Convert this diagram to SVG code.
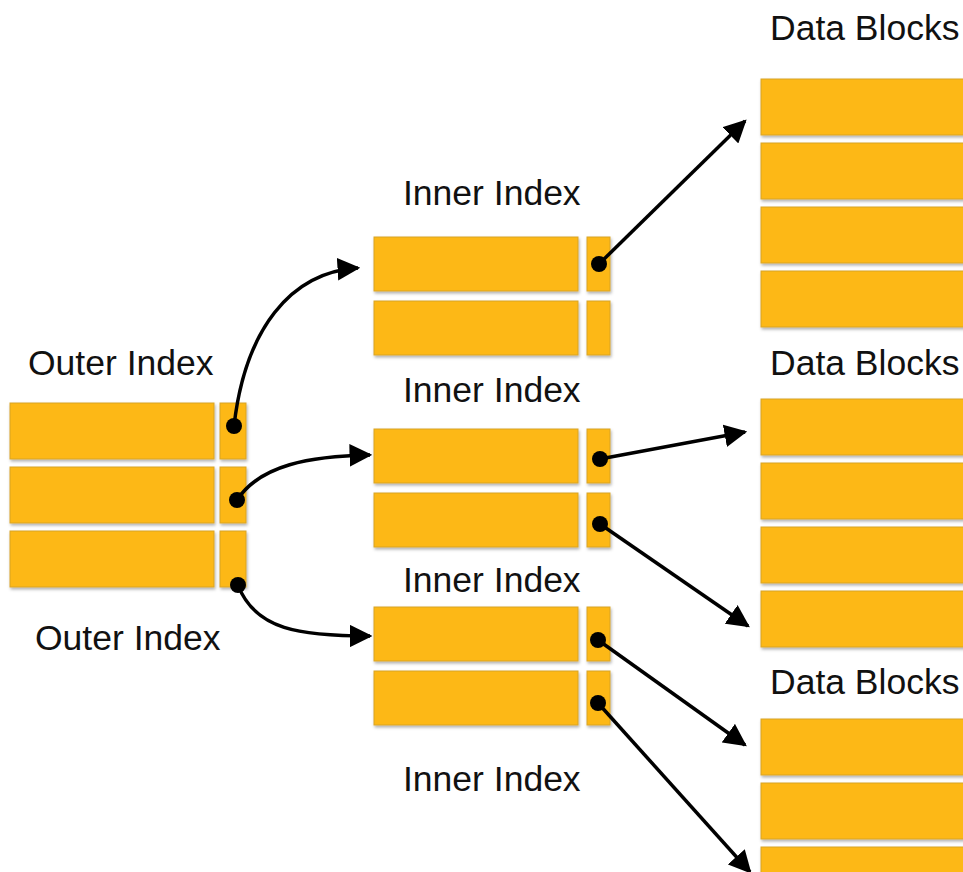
<svg xmlns="http://www.w3.org/2000/svg" width="963" height="872" viewBox="0 0 963 872">
<defs>
<filter id="sh" x="-10%" y="-20%" width="130%" height="150%">
<feDropShadow dx="1" dy="2" stdDeviation="1.5" flood-color="#000" flood-opacity="0.3"/>
</filter>
<marker id="ah" viewBox="0 0 10 10" refX="9" refY="5" markerWidth="6.5" markerHeight="6.5" markerUnits="strokeWidth" orient="auto">
<path d="M0,0 L10,5 L0,10 Z" fill="#000"/>
</marker>
</defs>
<style>
.b{fill:#FDB812;stroke:#D8A42A;stroke-width:1;filter:url(#sh)}
.t{font-family:"Liberation Sans",Arial,sans-serif;font-size:35.5px;fill:#111}
.c{fill:none;stroke:#000;stroke-width:3.5;marker-end:url(#ah)}
.d{fill:#000}
</style>
<rect width="963" height="872" fill="#fff"/>

<g id="outer-index">
<text class="t" x="28" y="375">Outer Index</text>
<rect class="b" x="10" y="403" width="204" height="56"/>
<rect class="b" x="220" y="403" width="26" height="56"/>
<rect class="b" x="10" y="467" width="204" height="56"/>
<rect class="b" x="220" y="467" width="26" height="56"/>
<rect class="b" x="10" y="531" width="204" height="56"/>
<rect class="b" x="220" y="531" width="26" height="56"/>
<text class="t" x="35" y="650">Outer Index</text>
</g>

<g id="inner-index-1">
<text class="t" x="403" y="205">Inner Index</text>
<rect class="b" x="374" y="237" width="204" height="54"/>
<rect class="b" x="587" y="237" width="23" height="54"/>
<rect class="b" x="374" y="301" width="204" height="54"/>
<rect class="b" x="587" y="301" width="23" height="54"/>
</g>

<g id="inner-index-2">
<text class="t" x="403" y="402">Inner Index</text>
<rect class="b" x="374" y="429" width="204" height="54"/>
<rect class="b" x="587" y="429" width="23" height="54"/>
<rect class="b" x="374" y="493" width="204" height="54"/>
<rect class="b" x="587" y="493" width="23" height="54"/>
</g>

<g id="inner-index-3">
<text class="t" x="403" y="592">Inner Index</text>
<rect class="b" x="374" y="607" width="204" height="54"/>
<rect class="b" x="587" y="607" width="23" height="54"/>
<rect class="b" x="374" y="671" width="204" height="54"/>
<rect class="b" x="587" y="671" width="23" height="54"/>
</g>

<g id="inner-index-4">
<text class="t" x="403" y="791">Inner Index</text>
</g>

<g id="data-blocks-1">
<text class="t" x="770" y="40">Data Blocks</text>
<rect class="b" x="761" y="79" width="210" height="56"/>
<rect class="b" x="761" y="143" width="210" height="56"/>
<rect class="b" x="761" y="207" width="210" height="56"/>
<rect class="b" x="761" y="271" width="210" height="56"/>
</g>

<g id="data-blocks-2">
<text class="t" x="770" y="375">Data Blocks</text>
<rect class="b" x="761" y="399" width="210" height="56"/>
<rect class="b" x="761" y="463" width="210" height="56"/>
<rect class="b" x="761" y="527" width="210" height="56"/>
<rect class="b" x="761" y="591" width="210" height="56"/>
</g>

<g id="data-blocks-3">
<text class="t" x="770" y="694">Data Blocks</text>
<rect class="b" x="761" y="719" width="210" height="56"/>
<rect class="b" x="761" y="783" width="210" height="56"/>
<rect class="b" x="761" y="847" width="210" height="56"/>
</g>

<g id="connectors">
<path class="c" d="M234,426 C245,330 290,272 358,268"/>
<path class="c" d="M237,500 C260,465 310,456 370,455"/>
<path class="c" d="M238,585 C255,630 300,636 370,636"/>
<path class="c" d="M599,264 L745,121"/>
<path class="c" d="M600,459 L745,432"/>
<path class="c" d="M600,524 L748,626"/>
<path class="c" d="M598,640 L745,745"/>
<path class="c" d="M598,703 L750,872"/>
<circle class="d" cx="234" cy="426" r="8"/>
<circle class="d" cx="237" cy="500" r="8"/>
<circle class="d" cx="238" cy="585" r="8"/>
<circle class="d" cx="599" cy="264" r="8"/>
<circle class="d" cx="600" cy="459" r="8"/>
<circle class="d" cx="600" cy="524" r="8"/>
<circle class="d" cx="598" cy="640" r="8"/>
<circle class="d" cx="598" cy="703" r="8"/>
</g>
</svg>
